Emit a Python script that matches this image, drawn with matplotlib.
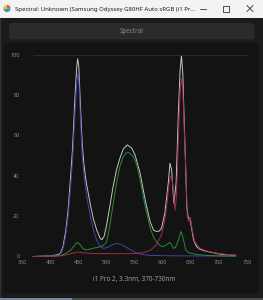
import matplotlib.pyplot as plt
from matplotlib.patches import Rectangle, FancyBboxPatch, Wedge

plt.rcParams["font.family"] = ["Noto Sans", "DejaVu Sans"]

# window texts
window_title = "Spectral: Unknown (Samsung Odyssey G80HF Auto sRGB (i1 Pr..."
button_text = "Spectral"
x_label = "i1 Pro 2, 3.3nm, 370-730nm"

x_ticks = [350, 400, 450, 500, 550, 600, 650, 700, 750]
y_ticks = [0, 20, 40, 60, 80, 100]

# spectra (nm, relative %)
white_nm = [370, 400, 412, 418, 423, 428, 432, 436, 440, 444, 447, 449, 451, 454,
            457, 460, 464, 468, 472, 477, 483, 489, 492, 496, 500, 506, 512, 518,
            524, 530, 537, 545, 551, 560, 569, 578, 584, 589, 594, 598, 604, 610,
            613, 616, 620, 624, 628, 631, 633.5, 636, 638, 640, 643, 645.5, 648.5,
            652, 655, 660, 666, 675, 684, 700, 715, 730]
white_val = [0, 0.3, 0.8, 1.5, 5, 13, 23, 38, 54, 78, 93, 98, 94, 74,
             56, 46, 37, 31, 25, 18.5, 13, 9, 8.3, 10, 14.9, 24.6, 34.7, 42.9,
             48.7, 53.2, 55.3, 53.7, 50.3, 41.3, 28, 17, 13, 12.4, 12.6, 14, 21.5, 36.3,
             46.2, 43, 26.4, 36.3, 71, 92, 99.8, 90, 70, 52.8, 24.8, 19, 19,
             13.2, 8.3, 5, 3.6, 2.8, 2.2, 1.3, 0.8, 0.5]

blue_nm = [370, 405, 415, 420, 424, 428, 432, 436, 440, 444, 447, 449, 451, 454,
           457, 460, 464, 468, 472, 477, 483, 489, 495, 502, 510, 518, 526, 534,
           542, 550, 560, 575, 600, 650, 730]
blue_val = [0, 0.2, 0.6, 2, 5, 11, 20, 33, 48, 70, 85, 90.5, 87, 68,
            50, 41, 32, 25, 19, 13, 8, 5, 4, 4.5, 5.8, 6.5, 6, 4.8,
            3.5, 2.2, 1.2, 0.6, 0.4, 0.3, 0.2]

green_nm = [370, 410, 420, 428, 436, 442, 448, 453, 458, 463, 470, 478, 486, 493,
            500, 506, 512, 518, 524, 530, 535, 540, 548, 554, 560, 569, 578, 584,
            589, 594, 598, 603, 608, 613, 616, 619, 622, 625, 629, 632.5, 635, 637,
            641, 645, 649, 660, 680, 700, 730]
green_val = [0, 0.2, 0.6, 1.5, 3, 5, 7, 6, 4, 3.3, 3.5, 4.2, 4.6, 5.2,
             7, 15, 26, 36.3, 44.6, 49.5, 51.3, 51.5, 49.5, 45.4, 38, 24.8, 14, 9.5,
             7.4, 5.8, 5, 5.2, 6, 7, 5.8, 4.1, 4.3, 5.8, 9, 12.4, 10.5, 8.3,
             3.3, 2.2, 1.7, 1, 0.5, 0.3, 0.2]

red_nm = [370, 420, 432, 442, 450, 460, 475, 500, 540, 565, 578, 589, 598, 604,
          608, 611, 614, 616.5, 619, 622, 624, 626, 629, 631.5, 633.5, 636, 638, 641,
          643.8, 646.6, 649.5, 652.5, 657, 666, 678, 690, 700, 715, 730]
red_val = [0, 0.3, 1, 1.8, 2.2, 1.8, 1.5, 1.4, 1.4, 1.8, 3, 5.8, 10.7, 18,
           27, 35, 39.5, 39, 33, 23, 28, 40, 67, 84, 88, 82, 66, 44.6,
           19.8, 17.3, 19, 13.2, 7.4, 4.1, 2.8, 2, 1.5, 1, 0.7]

W, H = 263, 300
fig = plt.figure(figsize=(W / 100, H / 100), dpi=100, facecolor="#1b1b1b")

# window chrome, drawn in pixel coordinates
ui = fig.add_axes([0, 0, 1, 1], zorder=0)
ui.set_xlim(0, W)
ui.set_ylim(H, 0)
ui.axis("off")
ui.add_patch(Rectangle((0, 0), W, 17.5, fc="#f3f3f3", ec="none"))
ui.add_patch(Rectangle((0, 17.5), 1.2, H, fc="#27344a", ec="none"))
ui.add_patch(Rectangle((0, 298.3), 72, 2, fc="#7d8696", ec="none"))
ui.add_patch(Rectangle((72, 298.3), W, 2, fc="#4a4a4a", ec="none"))
for a0, a1, c in [(0, 90, "#3b8ee0"), (90, 180, "#2fb36a"),
                  (180, 270, "#f2c230"), (270, 360, "#e05a4a")]:
    ui.add_patch(Wedge((7, 8.5), 3.6, a0, a1, fc=c, ec="none"))
ui.text(15, 9, window_title, fontsize=4.3, color="#1b1b1b", va="center", ha="left")
ui.plot([199.5, 206], [9, 9], color="#333333", lw=0.6)
ui.add_patch(Rectangle((223, 5.8), 6, 6, fc="none", ec="#333333", lw=0.6))
ui.plot([247, 253], [5.5, 11.5], color="#333333", lw=0.6)
ui.plot([247, 253], [11.5, 5.5], color="#333333", lw=0.6)
ui.add_patch(FancyBboxPatch((9.5, 23.5), 244.5, 15.5,
                            boxstyle="round,pad=0,rounding_size=3",
                            fc="#2a2a2a", ec="#303030", lw=0.5))
ui.text(131.5, 31.3, button_text, fontsize=4.5, color="#8a8a8a",
        ha="center", va="center")
ui.add_patch(FancyBboxPatch((3, 43), 256, 251,
                            boxstyle="round,pad=0,rounding_size=4",
                            fc="#131313", ec="none"))

# chart
y0, y100 = 256.5, 54.7
ax = fig.add_axes([22 / W, (H - y0) / H, 225 / W, (y0 - y100) / H], zorder=1)
ax.set_facecolor("none")
ax.hlines(100, 370, 750, color="#2e2e2e", lw=0.6)
ax.plot(blue_nm, blue_val, color="#4343a8", lw=0.7)
ax.plot(green_nm, green_val, color="#2a8a34", lw=0.7)
ax.plot(red_nm, red_val, color="#a42a48", lw=0.7)
ax.plot(white_nm, white_val, color="#c4c4c4", lw=0.7, zorder=1.5)
ax.set_xlim(350, 750)
ax.set_ylim(0, 100)
ax.set_xticks(x_ticks)
ax.set_yticks(y_ticks)
for s in ax.spines.values():
    s.set_visible(False)
ax.tick_params(axis="both", length=0, labelsize=3.9, labelcolor="#8a8a8a")
ax.tick_params(axis="x", pad=2.2)
ax.tick_params(axis="y", pad=1.8)
ax.set_xlabel(x_label, fontsize=4.6, color="#9c9c9c", labelpad=8)

fig.savefig("out.png", dpi=100, facecolor=fig.get_facecolor())
